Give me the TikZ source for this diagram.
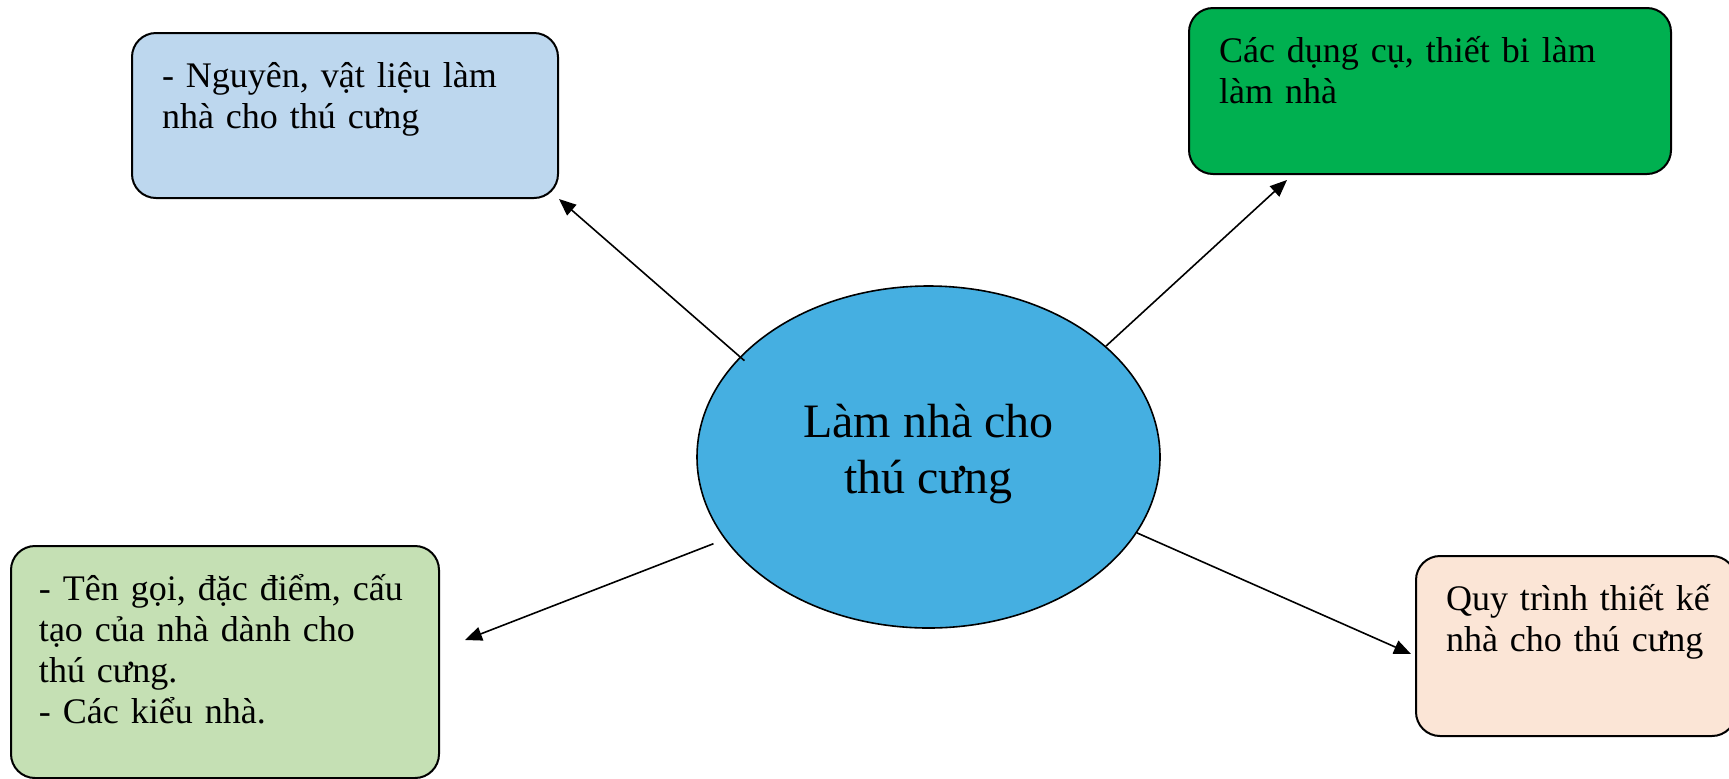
\documentclass[tikz,border=0pt]{standalone}
\usepackage{fontspec}
\setmainfont{Liberation Serif}
\usetikzlibrary{shapes.geometric,arrows.meta}

\definecolor{paleblue}{HTML}{BDD7EE}
\definecolor{toolgreen}{HTML}{00B050}
\definecolor{palegreen}{HTML}{C5E0B4}
\definecolor{palepeach}{HTML}{FBE5D6}
\definecolor{hubblue}{HTML}{45AFE1}

\begin{document}
\begin{tikzpicture}[x=0.5pt,y=-0.5pt,
    topic/.style={draw,line width=1pt,rounded corners=12pt,anchor=north west,align=left,
        inner xsep=15pt,inner ysep=13pt,text height=14pt,font=\topicfontsize},
    hubnode/.style={ellipse,draw,line width=0.8pt,fill=hubblue,minimum width=231.5pt,
        minimum height=171pt,inner sep=0pt,align=center,font=\hubfontsize},
    link/.style={line width=0.8pt,-{Triangle[length=8.5pt,width=7pt]}}]
    \providecommand{\topicfontsize}{\fontsize{18pt}{20.5pt}\selectfont}
    \providecommand{\hubfontsize}{\fontsize{24pt}{28pt}\selectfont}
    \useasboundingbox (0,0) rectangle (1729,778);
    % centre
    \node[hubnode] (hub) at (928.5,457) {Làm nhà cho\\thú cưng\rule[-8pt]{0pt}{8pt}};
    % four topics
    \node[topic,fill=paleblue,text width=183pt,text depth=42.5pt] (materials) at (131,32)
        {- Nguyên, vật liệu làm\\nhà cho thú cưng};
    \node[topic,fill=toolgreen,text width=211pt,text depth=43pt] (tools) at (1188,7)
        {Các dụng cụ, thiết bi làm\\làm nhà};
    \node[topic,fill=palegreen,inner xsep=14pt,text width=186pt,text depth=76pt] (kinds) at (10,545)
        {- Tên gọi, đặc điểm, cấu\\tạo của nhà dành cho\\thú cưng.\\- Các kiểu nhà.};
    \node[topic,fill=palepeach,text width=130pt,text depth=50pt] (process) at (1415,555)
        {\mbox{Quy trình thiết kế}\\nhà cho thú cưng};
    % arrows
    \draw[link,shorten <=-3pt] (hub.152) -- (materials.south east);
    \draw[link] (hub.32.3) -- ([shift={(99,5)}]tools.south west);
    \draw[link,shorten <=6pt] (hub.202) -- ([shift={(25,-22)}]kinds.east);
    \draw[link] (hub.-20.5) -- ([shift={(-4,8)}]process.west);
\end{tikzpicture}
\end{document}
